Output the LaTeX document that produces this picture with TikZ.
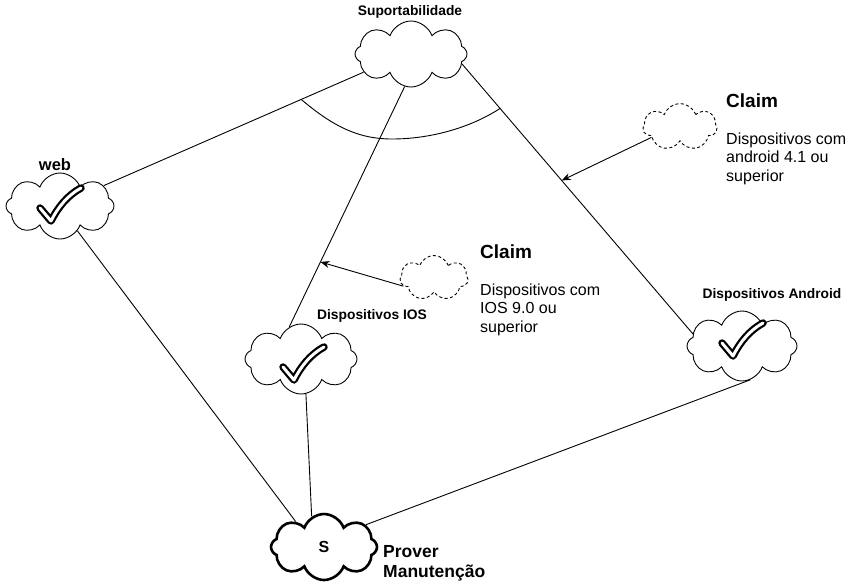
\documentclass[tikz,border=0pt]{standalone}
\usepackage{fontspec}
\setmainfont{Liberation Sans}
\usetikzlibrary{shapes.symbols,arrows.meta}

\begin{document}
\begin{tikzpicture}[x=1pt,y=-1pt,
  cloud_node/.style={cloud,draw,cloud puffs=8,cloud puff arc=140,cloud ignores aspect,inner sep=0pt,line width=0.9pt},
  claim_node/.style={cloud_node,cloud puffs=7,dash pattern=on 3pt off 2.5pt},
  small_label/.style={font=\fontsize{13.8}{16}\selectfont\bfseries,inner sep=0pt,anchor=base},
  claim_title/.style={font=\fontsize{19}{22}\selectfont\bfseries,inner sep=0pt,anchor=base west},
  claim_text/.style={font=\fontsize{16}{18.5}\selectfont,inner sep=0pt,anchor=north west,align=left},
  tick_mark/.pic={
    \draw[line width=7.5pt,line cap=round,line join=round] (-20,3) -- (-9,16) .. controls (-2,2) and (8,-10) .. (21,-17);
    \draw[white,line width=3pt,line cap=round,line join=round] (-20,3) -- (-9,16) .. controls (-2,2) and (8,-10) .. (21,-17);
  }]

    \useasboundingbox (0,0) rectangle (861,587);

    % clouds
    \node[cloud_node,minimum width=112pt,minimum height=66pt] (supp) at (411,54) {};
    \node[cloud_node,minimum width=108pt,minimum height=66pt] (web) at (60,206) {};
    \node[cloud_node,minimum width=112pt,minimum height=70pt] (ios) at (301,359) {};
    \node[cloud_node,minimum width=110pt,minimum height=70pt] (android) at (742,346) {};
    \node[cloud_node,line width=2.6pt,minimum width=106pt,minimum height=66pt,font=\fontsize{16}{18}\selectfont\bfseries] (prover) at (324,547) {S};

    \node[claim_node,minimum width=74pt,minimum height=47pt] (claim_a) at (680,127) {};
    \node[claim_node,minimum width=68pt,minimum height=45pt] (claim_b) at (434,278) {};

    % check marks
    \pic at (60,205) {tick_mark};
    \pic at (303,364) {tick_mark};
    \pic at (742,340) {tick_mark};

    % labels
    \node[small_label] (supp_label) at (410,15) {Suportabilidade};
    \node[small_label,font=\fontsize{16.5}{18}\selectfont\bfseries] (web_label) at (55,170) {web};
    \node[small_label] (ios_label) at (372,319) {Dispositivos IOS};
    \node[small_label] (android_label) at (772,298) {Dispositivos Android};
    \node[claim_text,font=\fontsize{17.5}{20}\selectfont\bfseries] (prover_label) at (383,545.5) {Prover\\Manutenção};

    \node[claim_title] (claim_a_title) at (726,107) {Claim};
    \node[claim_text] (claim_a_text) at (726,132.5) {Dispositivos com\\android 4.1 ou\\superior};
    \node[claim_title] (claim_b_title) at (480,258) {Claim};
    \node[claim_text] (claim_b_text) at (480,283.5) {Dispositivos com\\IOS 9.0 ou\\superior};

    % connectors
    \draw[line width=0.9pt] (supp.201) -- coordinate[pos=0.24] (arc_l) (web.25);
    \draw[line width=0.9pt] (supp.259) -- coordinate[pos=0.73] (on_ios) (ios.110);
    \draw[line width=0.9pt] (supp.-11) -- coordinate[pos=0.165] (arc_r) coordinate[pos=0.432] (on_android) (android.166);
    \draw[line width=0.9pt] (web.-55) -- (prover.138);
    \draw[line width=0.9pt] (ios.-82) -- (prover.112);
    \draw[line width=0.9pt] (android.-76) -- (prover.28);

    \draw[line width=0.9pt] (arc_l) .. controls (335,128) and (360,139) .. (392,139) .. controls (430,139) and (470,128) .. (arc_r);

    \draw[line width=0.9pt,-{Stealth[length=9pt,width=7pt]}] (claim_a.200) -- (on_android);
    \draw[line width=0.9pt,-{Stealth[length=9pt,width=7pt]}] (claim_b.195) -- (on_ios);

\end{tikzpicture}
\end{document}
